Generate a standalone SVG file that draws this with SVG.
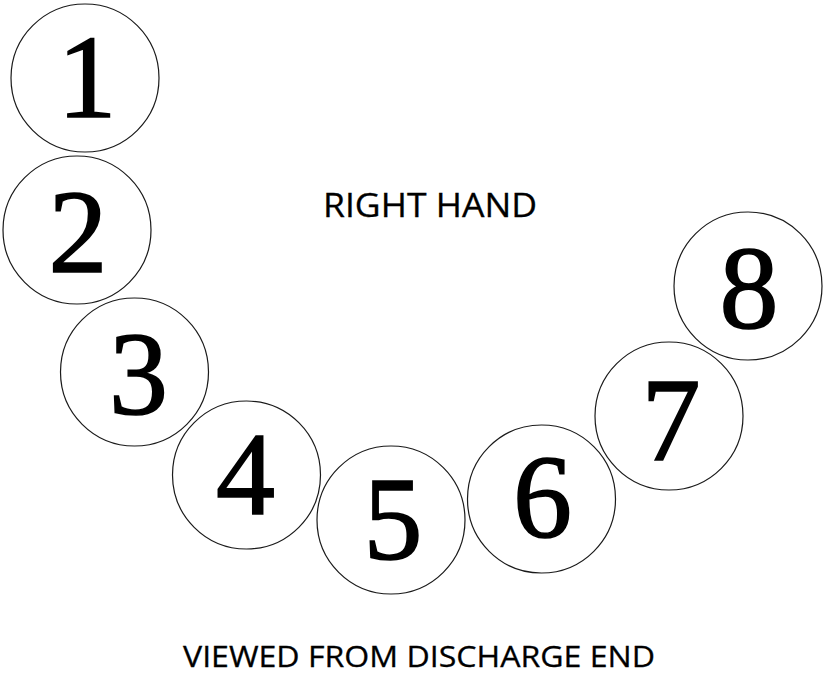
<svg xmlns="http://www.w3.org/2000/svg" width="823" height="675" viewBox="0 0 823 675">
<style>
.c{fill:#fff;stroke:#1a1a1a;stroke-width:1.2}
.n{font-family:"Liberation Serif","Times New Roman",serif;font-size:118px;fill:#000;stroke:#000;stroke-width:1.6;text-anchor:middle}
.l{font-family:"Open Sans","Liberation Sans",sans-serif;fill:#000;stroke:#000;stroke-width:0.3;text-anchor:middle}
</style>
<rect width="823" height="675" fill="#fff"/>
<g id="n1"><circle class="c" cx="85" cy="78" r="74"/><text class="n" x="87" y="117">1</text></g>
<g id="n2"><circle class="c" cx="77" cy="230" r="74"/><text class="n" x="78" y="272">2</text></g>
<g id="n3"><circle class="c" cx="134.5" cy="372" r="74"/><text class="n" x="138.5" y="414">3</text></g>
<g id="n4"><circle class="c" cx="246.5" cy="475" r="74"/><text class="n" x="245.5" y="514">4</text></g>
<g id="n5"><circle class="c" cx="391" cy="520" r="74"/><text class="n" x="393" y="559">5</text></g>
<g id="n6"><circle class="c" cx="541.5" cy="499" r="74"/><text class="n" x="542.5" y="537">6</text></g>
<g id="n7"><circle class="c" cx="669" cy="416" r="74"/><text class="n" x="671" y="460">7</text></g>
<g id="n8"><circle class="c" cx="748" cy="286" r="74"/><text class="n" x="749" y="328">8</text></g>
<g id="connectors"></g>
<text class="l" x="430" y="217" font-size="33" textLength="214" lengthAdjust="spacingAndGlyphs">RIGHT HAND</text>
<text class="l" x="419" y="667" font-size="30" textLength="472" lengthAdjust="spacingAndGlyphs">VIEWED FROM DISCHARGE END</text>
</svg>
